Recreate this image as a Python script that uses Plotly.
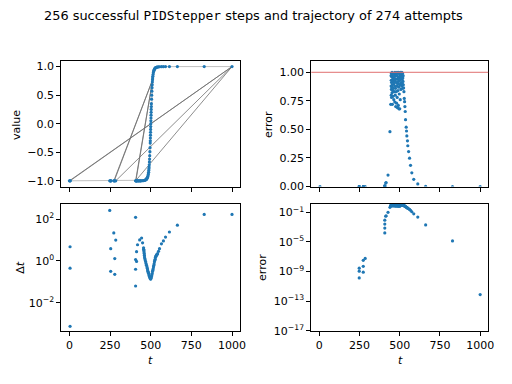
import math
import plotly.graph_objects as go

# ---------------- data ----------------
# accepted steps: time and value
t_val = [0, 4, 5, 248, 252, 254, 256, 273, 276, 279, 285,
         407, 409, 411, 413, 415, 419, 424, 427, 432, 436, 439, 444, 450,
         455, 460, 464, 467, 470, 472, 474, 476, 478, 480, 482, 484, 485.5, 487,
         488, 489, 490, 491, 492, 493, 494, 495, 496, 497, 497.5, 498, 498.5,
         499, 499.5, 500, 500.5, 501, 501.5, 502, 502.5, 503, 503.5, 504, 505,
         506, 507, 508, 509, 510, 511, 512, 513, 514.5, 516, 518, 520, 522, 524,
         527, 530, 534, 538, 542, 548, 554, 566, 578, 591, 615, 664, 829, 1000]
u_val = [-1, -1, -1, -1, -1, -1, -1, -1, -1, -1, -1,
         -1, -1, -1, -1, -1, -1, -1, -1, -1, -1, -1, -0.999, -0.999,
         -0.995, -0.993, -0.99, -0.986, -0.981, -0.976, -0.97, -0.962, -0.952,
         -0.94, -0.924, -0.90, -0.88, -0.85, -0.82, -0.79, -0.76, -0.72, -0.67,
         -0.62, -0.56, -0.49, -0.42, -0.34, -0.30, -0.25, -0.20, -0.15, -0.10,
         -0.05, 0.0, 0.05, 0.10, 0.15, 0.20, 0.25, 0.30, 0.35, 0.43, 0.50, 0.57,
         0.63, 0.68, 0.73, 0.77, 0.80, 0.83, 0.86, 0.89, 0.915, 0.935, 0.95,
         0.962, 0.972, 0.98, 0.986, 0.99, 0.993, 0.995, 0.997, 0.998, 0.999,
         0.9995, 1, 1, 1, 1]

# rejected attempts: start -> attempted end -> next start (None separates excursions)
rej_t = [0, 1000, 4, None, 273, 517, 276, None, 285, 1000, 407, None, 407, 511, 409]
rej_u = [-1, 1, -1, None, -1, 0.81, -1, None, -1, 1, -1, None, -1, 0.75, -1]

# step sizes
t_dt = [4, 4, 4, 248, 254, 254, 273, 279, 279, 285,
        407, 407, 413, 407, 407, 413, 419, 432, 444, 450,
        456, 457, 458, 459, 460, 461, 462, 464, 466, 468.5, 471, 474, 477, 479,
        481, 483, 485, 487, 489, 491, 493, 495, 497, 499,
        501, 503, 505, 507, 509, 511, 513, 515, 517, 519, 521, 523, 525, 527,
        529, 531, 533, 535, 537, 540, 542,
        548, 554, 566, 578, 591, 615, 664, 829, 1000]
dt_val = [4.8, 0.45, 7.4e-4, 265, 3.9, 0.32, 22, 1.3, 0.23, 10,
          124, 1.17, 0.95, 0.4, 0.063, 2.8, 6.0, 10.2, 12.6, 7.4,
          4.3, 3.6, 3.2, 2.7, 2.25, 1.9, 1.55, 1.3, 1.1, 0.93, 0.76, 0.63, 0.52,
          0.44, 0.37, 0.32, 0.28, 0.26, 0.22, 0.19, 0.18, 0.16, 0.145, 0.135,
          0.14, 0.155, 0.18, 0.21, 0.25, 0.31, 0.36, 0.42, 0.52, 0.6, 0.72, 0.91,
          1.05, 1.2, 1.45, 1.6, 1.75, 1.86, 2.0, 2.1, 2.24,
          2.9, 3.9, 6.6, 9.1, 14, 24.5, 52, 170, 170]

# normalised error estimates
t_err = [4, 248, 248, 248, 273, 273, 273, 285,
         407, 407, 407, 407, 413, 415, 427, 439, 444, 454,
         446, 446, 447, 447, 448, 448, 449, 449, 450, 451, 452, 452, 453, 454,
         455, 456, 457, 458, 459, 460, 461, 462, 463, 464, 465, 466, 467, 468,
         469, 470, 471, 472, 473, 474, 475, 476, 477, 478, 479, 480, 481, 482,
         483, 484, 485, 486, 487, 488, 489, 490, 491, 492, 493, 494, 495, 496,
         497, 498, 499, 500, 501, 502, 503, 504, 505, 506, 507, 508, 509, 510,
         511, 512, 513, 514, 515, 516, 517, 518, 519, 520, 521, 522,
         524, 526, 528, 530, 532, 534, 536, 540, 542, 544, 548, 550, 555, 561,
         567, 575, 587, 612, 661, 828, 1000]
err_val = [0, 1.4e-10, 1.15e-9, 2.9e-9, 8.5e-10, 5.2e-9, 3.3e-8, 6e-8,
           1.66e-4, 7.6e-4, 2.6e-3, 8.7e-3, 0.03, 0.035, 0.1, 0.48, 0.72, 0.72,
           0.97, 0.88, 0.93, 0.80, 0.99, 0.85, 0.91, 0.78, 0.96, 0.87, 1.0, 0.82,
           0.93, 0.89, 0.98, 0.84, 0.95, 0.79, 0.92, 0.99, 0.86, 0.94, 0.76, 0.90,
           0.98, 0.83, 0.96, 0.88, 0.74, 1.0, 0.92, 0.80, 0.97, 0.86, 0.70, 0.94,
           0.99, 0.83, 0.91, 0.73, 0.97, 0.88, 1.0, 0.78, 0.94, 0.69, 0.90, 0.99,
           0.84, 0.96, 0.71, 0.92, 1.0, 0.87, 0.68, 0.95, 0.81, 0.99, 0.89, 0.68,
           0.97, 0.93, 0.76, 1.0, 0.90, 0.98, 0.85, 0.95, 0.99, 0.91, 0.97, 0.88,
           1.0, 0.94, 0.96, 0.90, 0.99, 0.86, 0.95, 0.92, 0.97, 0.89,
           0.863, 0.83, 0.771, 0.743, 0.70, 0.657, 0.585, 0.52, 0.486, 0.443,
           0.40, 0.357, 0.306, 0.248, 0.186, 0.12, 0.063, 0.023, 0.002, 1.4e-5,
           8e-13]

tolerance = 1.0
n_steps = 256
n_attempts = 274

x_ticks = [0, 250, 500, 750, 1000]
x_range = [-50, 1050]

# ---------------- figure ----------------
BLUE = "#1f77b4"
FONT = "DejaVu Sans"
W, H = 512, 384

def px(x):
    return x / W

def py(y):
    return 1 - y / H

xL = [px(62), px(243)]
xR = [px(315), px(494)]
yT = [py(190), py(62)]
yB = [py(337), py(208)]

fig = go.Figure()
mk = dict(color=BLUE, size=3.2, line=dict(width=0))

# top-left: value
fig.add_trace(go.Scatter(x=t_val, y=u_val, mode="lines", line=dict(color="#b8b8b8", width=0.9),
                         xaxis="x", yaxis="y", hoverinfo="skip"))
fig.add_trace(go.Scatter(x=rej_t, y=rej_u, mode="lines", line=dict(color="#707070", width=0.8),
                         xaxis="x", yaxis="y", connectgaps=False, hoverinfo="skip"))
fig.add_trace(go.Scatter(x=t_val, y=u_val, mode="markers", marker=mk, xaxis="x", yaxis="y"))
# top-right: error (linear)
fig.add_trace(go.Scatter(x=t_err, y=err_val, mode="markers", marker=mk, xaxis="x2", yaxis="y2"))
# bottom-left: dt (log)
fig.add_trace(go.Scatter(x=t_dt, y=dt_val, mode="markers", marker=mk, xaxis="x3", yaxis="y3"))
# bottom-right: error (log)
fig.add_trace(go.Scatter(x=t_err, y=[e if e > 0 else None for e in err_val], mode="markers",
                         marker=mk, xaxis="x4", yaxis="y4"))

axis_common = dict(showline=True, linecolor="black", linewidth=1, mirror=True,
                   ticks="outside", ticklen=4, tickwidth=0.9, tickcolor="black",
                   showgrid=False, zeroline=False,
                   tickfont=dict(family=FONT, size=11, color="black"))
xcommon = dict(axis_common, range=x_range, tickvals=x_ticks,
               ticktext=[str(v) for v in x_ticks])

def pow10(e):
    s = str(e).replace("-", "\u2212")
    return "10<sup>" + s + "</sup>"

dt_exp = [-2, 0, 2]
err_exp = [-17, -13, -9, -5, -1]
u_ticks = [-1.0, -0.5, 0.0, 0.5, 1.0]
e_ticks = [0.0, 0.25, 0.5, 0.75, 1.0]

fig.update_layout(
    width=W, height=H, margin=dict(l=0, r=0, t=0, b=0),
    paper_bgcolor="white", plot_bgcolor="white", showlegend=False,
    xaxis=dict(xcommon, domain=xL, anchor="y", showticklabels=False),
    yaxis=dict(axis_common, domain=yT, anchor="x", range=[-1.1, 1.1], tickvals=u_ticks,
               ticktext=[f"{v:.1f}".replace("-", "\u2212") for v in u_ticks]),
    xaxis2=dict(xcommon, domain=xR, anchor="y2", showticklabels=False),
    yaxis2=dict(axis_common, domain=yT, anchor="x2", range=[0, 1.1], tickvals=e_ticks,
                ticktext=[f"{v:.2f}" for v in e_ticks]),
    xaxis3=dict(xcommon, domain=xL, anchor="y3"),
    yaxis3=dict(axis_common, domain=yB, anchor="x3", type="log", range=[-3.35, 2.72],
                tickvals=[10.0 ** e for e in dt_exp], ticktext=[pow10(e) for e in dt_exp]),
    xaxis4=dict(xcommon, domain=xR, anchor="y4"),
    yaxis4=dict(axis_common, domain=yB, anchor="x4", type="log", range=[-17, 0.1],
                tickvals=[10.0 ** e for e in err_exp], ticktext=[pow10(e) for e in err_exp]),
)

# tolerance lines
fig.add_shape(type="line", xref="x2 domain", yref="y2", x0=0, x1=1, y0=tolerance, y1=tolerance,
              line=dict(color="#e07070", width=1))
fig.add_shape(type="line", xref="x4 domain", yref="y4", x0=0, x1=1,
              y0=math.log10(tolerance), y1=math.log10(tolerance),
              line=dict(color="#e07070", width=1.5))

lab = dict(family=FONT, size=11, color="black")
ann = [
    dict(text="value", x=px(16.5), y=py(127), textangle=-90),
    dict(text="error", x=px(271.5), y=py(127), textangle=-90),
    dict(text="\u0394<i>t</i>", x=px(20), y=py(272), textangle=-90),
    dict(text="error", x=px(265), y=py(272), textangle=-90),
    dict(text="<i>t</i>", x=px(152), y=py(367)),
    dict(text="<i>t</i>", x=px(405), y=py(367)),
]
for a in ann:
    fig.add_annotation(xref="paper", yref="paper", showarrow=False, font=lab,
                       xanchor="center", yanchor="middle", **a)

fig.add_annotation(
    xref="paper", yref="paper", x=px(256), y=py(16), showarrow=False,
    xanchor="center", yanchor="middle",
    font=dict(family=FONT, size=12.9, color="black"),
    text=f"{n_steps} successful <span style='font-family:DejaVu Sans Mono'>PIDStepper</span> "
         f"steps and trajectory of {n_attempts} attempts")

fig.write_html("out.html", config={"displayModeBar": False},
               post_script="document.body.style.margin='0';")
